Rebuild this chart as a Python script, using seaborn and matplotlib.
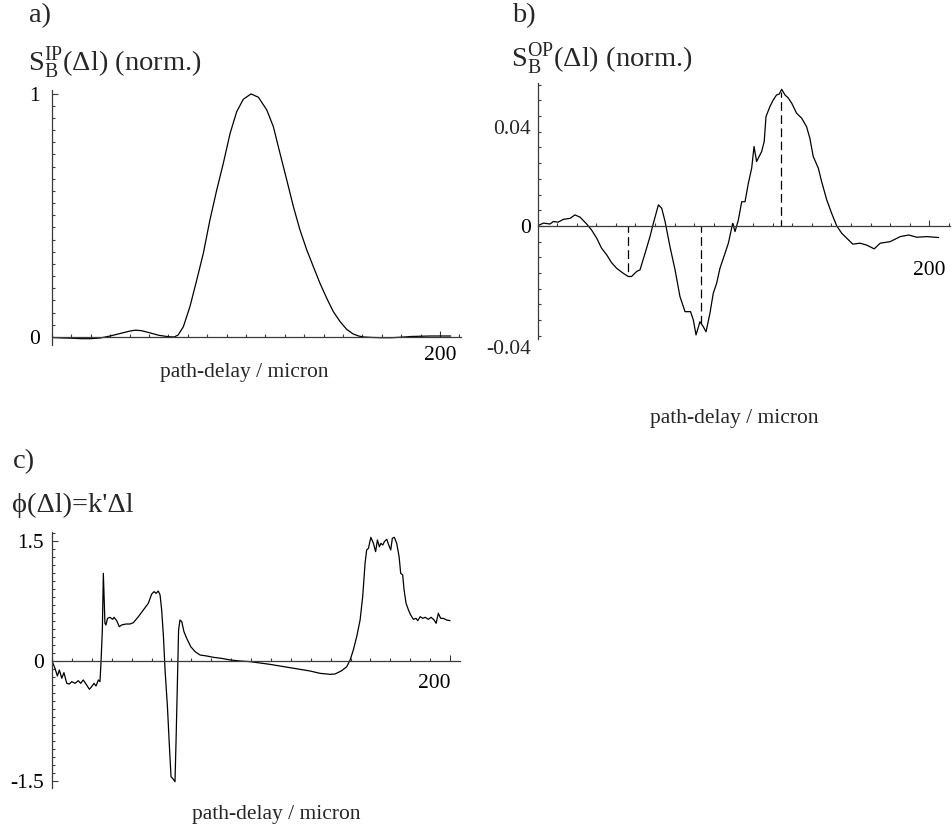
import matplotlib
matplotlib.use("Agg")
import matplotlib.pyplot as plt
import seaborn as sns
from matplotlib.ticker import MultipleLocator, FixedLocator

# ---------------- data ----------------
# panel a: in-phase signal (normalised)
a_x = [0, 5, 10, 15, 20, 25, 30, 35, 40, 43, 46, 50, 55, 60, 63, 65, 67.7, 71.1, 74.6, 78,
       81.4, 84.9, 88.3, 91.8, 95.2, 98.6, 102.6, 106.4, 110.7, 114.1, 117.5, 121, 124.4,
       127.8, 131.3, 134.7, 138.1, 141.6, 145, 148.5, 151.9, 155.3, 158, 160.5, 165, 170,
       175, 180, 185, 190, 195, 200, 205.5]
a_y = [-0.002, -0.004, -0.005, -0.007, -0.007, -0.004, 0.004, 0.014, 0.024, 0.028, 0.026,
       0.018, 0.007, 0.001, 0.0, 0.008, 0.042, 0.125, 0.234, 0.344, 0.481, 0.604, 0.714,
       0.837, 0.926, 0.977, 0.999, 0.985, 0.933, 0.864, 0.755, 0.645, 0.536, 0.440, 0.358,
       0.289, 0.221, 0.159, 0.104, 0.063, 0.031, 0.012, 0.004, 0.0, -0.002, -0.003, -0.003,
       -0.001, 0.002, 0.003, 0.004, 0.004, 0.004]

# panel b: out-of-phase signal (normalised)
b_x = [0, 3.0, 6.4, 8.1, 10.5, 13.2, 16.6, 19.1, 21.7, 25.1, 27.6, 30.2, 32.7, 35.3, 37.8,
       40.4, 43.8, 46.3, 48.0, 50.6, 52.3, 54.9, 57.4, 59.1, 61.7, 63.4, 65.1, 67.6, 70.2,
       72.7, 75.3, 78.1, 79.5, 80.9, 82.9, 84.6, 86.0, 88.0, 89.7, 91.4, 93.1, 95.7, 97.4,
       99.6, 100.8, 102.5, 104.2, 105.9, 107.6, 109.3, 110.5, 111.8, 114.4, 115.7, 116.6,
       118.6, 120.3, 122.0, 123.4, 124.6, 126.3, 128.0, 129.7, 132.2, 134.8, 137.3, 139.0,
       140.7, 143.3, 145.0, 147.6, 150.1, 152.7, 155.2, 157.8, 160.9, 164.6, 168.0, 171.8,
       174.9, 180.0, 185.1, 189.4, 193.6, 198.7, 204.7]
b_y = [0.0, 0.0009, 0.0006, 0.0014, 0.0012, 0.0021, 0.0024, 0.0035, 0.0028, 0.0006, -0.0013,
       -0.0039, -0.0071, -0.0092, -0.0117, -0.0135, -0.0151, -0.0161, -0.0161, -0.0145,
       -0.0140, -0.0087, -0.0034, 0.0008, 0.0067, 0.0056, 0.0014, -0.0066, -0.0140, -0.0225,
       -0.0273, -0.0273, -0.0299, -0.0347, -0.0305, -0.0321, -0.0337, -0.0278, -0.0214,
       -0.0183, -0.0135, -0.0087, -0.0055, 0.0008, -0.0018, 0.0019, 0.0077, 0.0077, 0.0136,
       0.0184, 0.0253, 0.0205, 0.0237, 0.0269, 0.0348, 0.0380, 0.0401, 0.0417, 0.0420,
       0.0435, 0.0417, 0.0407, 0.0391, 0.0359, 0.0343, 0.0316, 0.0279, 0.0221, 0.0184,
       0.0141, 0.0083, 0.0040, 0.0, -0.0023, -0.0039, -0.0058, -0.0055, -0.0061, -0.0073,
       -0.0055, -0.0050, -0.0034, -0.0029, -0.0036, -0.0034, -0.0037]
# dashed markers at the extrema of panel b
b_mark_x = [46.3, 83.4, 124.2]
b_mark_y = [-0.0161, -0.0310, 0.0425]

# panel c: phase
c_x = [0, 1.5, 2.7, 3.7, 4.9, 6.0, 7.4, 8.7, 9.9, 11.6, 13.2, 14.4, 15.7, 17.4, 18.8, 19.9,
       21.1, 22.1, 23.3, 24.1, 24.6, 25.3, 25.8, 26.6, 27.1, 27.9, 29.1, 30.5, 31.2, 32.5,
       33.8, 35.0, 37.2, 39.2, 40.9, 43.4, 45.9, 48.4, 50.1, 51.3, 52.3, 53.4, 54.3, 55.1,
       56.0, 56.8, 58.0, 59.0, 59.8, 61.0, 61.8, 62.3, 63.0, 63.6, 64.3, 65.2, 66.3, 67.7,
       69.7, 71.9, 74.4, 77.7, 81.1, 85.3, 89.5, 94.5, 99.5, 109.5, 119.6, 129.6, 134.7,
       139.7, 142.2, 145.6, 148.1, 149.8, 151.4, 153.1, 154.8, 156.1, 157.3, 158.1, 159.0,
       160.2, 161.5, 162.6, 163.5, 164.5, 165.3, 166.2, 167.0, 168.2, 169.2, 170.2, 171.0,
       172.0, 173.2, 174.4, 175.2, 176.2, 176.9, 177.9, 179.1, 180.2, 181.6, 182.9, 183.8,
       185.0, 186.3, 187.5, 189.1, 190.5, 192.0, 193.0, 194.1, 195.3, 196.6, 198.3, 200.0]
c_y = [0.0, -0.092, -0.188, -0.113, -0.217, -0.146, -0.280, -0.289, -0.259, -0.280, -0.247,
       -0.280, -0.238, -0.301, -0.355, -0.322, -0.280, -0.314, -0.238, -0.259, -0.029, 0.389,
       1.10, 0.473, 0.452, 0.535, 0.548, 0.523, 0.548, 0.506, 0.431, 0.452, 0.464, 0.464,
       0.481, 0.556, 0.640, 0.724, 0.841, 0.870, 0.849, 0.878, 0.828, 0.640, 0.305, -0.113,
       -0.573, -1.075, -1.451, -1.485, -1.514, -1.033, -0.280, 0.389, 0.514, 0.494, 0.368,
       0.284, 0.180, 0.117, 0.075, 0.063, 0.046, 0.033, 0.013, 0.0, -0.008, -0.042, -0.084,
       -0.125, -0.155, -0.167, -0.163, -0.121, -0.071, 0.013, 0.138, 0.305, 0.514, 0.807,
       1.225, 1.393, 1.414, 1.552, 1.476, 1.372, 1.518, 1.434, 1.476, 1.455, 1.497, 1.527,
       1.455, 1.393, 1.539, 1.552, 1.476, 1.309, 1.100, 1.079, 0.891, 0.724, 0.640, 0.577,
       0.523, 0.535, 0.506, 0.556, 0.535, 0.548, 0.523, 0.548, 0.514, 0.473, 0.598, 0.535,
       0.535, 0.514, 0.506]

x_label = "path-delay / micron"
titles = [r"$S_B^{IP}$(Δl) (norm.)", r"$S_B^{OP}$(Δl) (norm.)", "ϕ(Δl)=k'Δl"]
panel_tags = ["a)", "b)", "c)"]

# ---------------- style ----------------
sns.set_theme(style="ticks")
plt.rcParams["font.family"] = ["Liberation Serif", "DejaVu Serif"]
plt.rcParams["mathtext.fontset"] = "custom"
plt.rcParams["mathtext.rm"] = "Liberation Serif"
plt.rcParams["mathtext.it"] = "Liberation Serif"
plt.rcParams["mathtext.default"] = "regular"

AX_COL = "#3a3a3a"
FS_TICK = 15.5
FS_TITLE = 20.5

fig = plt.figure(figsize=(9.52, 8.33), dpi=100)
W, H = 952.0, 833.0


def add_axes(px_left, px_right, px_top, px_bottom):
    return fig.add_axes([px_left / W, 1 - px_bottom / H,
                         (px_right - px_left) / W, (px_bottom - px_top) / H])


def style(ax, xlim, ylim, yminor, ypad, xpad):
    ax.set_xlim(*xlim)
    ax.set_ylim(*ylim)
    for s in ["top", "right"]:
        ax.spines[s].set_visible(False)
    ax.spines["left"].set_position(("data", 0))
    ax.spines["bottom"].set_position(("data", 0))
    for s in ["left", "bottom"]:
        ax.spines[s].set_color(AX_COL)
        ax.spines[s].set_linewidth(0.9)
    ax.xaxis.set_minor_locator(MultipleLocator(10))
    ax.yaxis.set_minor_locator(MultipleLocator(yminor))
    ax.tick_params(which="both", direction="in", color=AX_COL, width=0.8,
                   bottom=True, left=True, labelcolor="black")
    ax.tick_params(which="major", length=4)
    ax.tick_params(which="minor", length=2.4)
    ax.tick_params(axis="y", pad=ypad, labelsize=FS_TICK)
    ax.tick_params(axis="x", pad=xpad, labelsize=FS_TICK)
    ax.set_facecolor("none")
    ax.grid(False)
    ax.set_ylabel("")


# ---- panel a ----
ax_a = add_axes(52, 461, 90, 345)
sns.lineplot(x=a_x, y=a_y, ax=ax_a, color="black", linewidth=0.9, estimator=None, sort=False)
style(ax_a, (0, 210.8), (-0.033, 1.015), 0.05, 9.0, 6.5)
ax_a.yaxis.set_major_locator(FixedLocator([0, 1]))
ax_a.set_yticklabels(["0", "1"])
ax_a.xaxis.set_major_locator(FixedLocator([200]))
ax_a.set_xticklabels(["200"])

# ---- panel b ----
ax_b = add_axes(537.5, 950, 83, 339)
sns.lineplot(x=b_x, y=b_y, ax=ax_b, color="black", linewidth=0.9, estimator=None, sort=False)
ax_b.vlines(b_mark_x, 0, b_mark_y, colors="black", linestyles=(2, (7, 3.5)), linewidth=0.9)
style(ax_b, (0, 210.5), (-0.0360, 0.0455), 0.005, 4.5, 25.0)
ax_b.yaxis.set_major_locator(FixedLocator([0]))
ax_b.set_yticklabels(["0"])
ax_b.xaxis.set_major_locator(FixedLocator([200]))
ax_b.set_xticklabels(["200"])
for txt, yv in [("0.04", 0.0315), ("-0.04", -0.0385)]:
    ax_b.annotate(txt, xy=(0, yv), xycoords=("axes fraction", "data"),
                  xytext=(-4.5, 0), textcoords="offset points", ha="right",
                  va="center_baseline", fontsize=FS_TICK, annotation_clip=False)

# ---- panel c ----
ax_c = add_axes(52, 460, 531.7, 788.3)
sns.lineplot(x=c_x, y=c_y, ax=ax_c, color="black", linewidth=0.9, estimator=None, sort=False)
style(ax_c, (0, 205), (-1.597, 1.622), 0.1, 6.0, 9.5)
ax_c.yaxis.set_major_locator(FixedLocator([-1.5, 0, 1.5]))
ax_c.set_yticklabels(["-1.5", "0", "1.5"])
ax_c.xaxis.set_major_locator(FixedLocator([200]))
ax_c.set_xticklabels(["200"])
for lab in ax_c.get_xticklabels():
    lab.set_ha("right")

# x labels
for ax, (lx, ly) in [(ax_a, (0.469, -0.106)), (ax_b, (0.476, -0.309)), (ax_c, (0.549, -0.104))]:
    ax.set_xlabel(x_label, fontsize=FS_TICK)
    ax.xaxis.label.set_va("center")
    ax.xaxis.set_label_coords(lx, ly)

# titles and panel tags (positions in pixels of the figure)
for tag, (tx, ty) in zip(panel_tags, [(29, 22), (512, 22), (13, 468)]):
    fig.text(tx / W, 1 - ty / H, tag, fontsize=FS_TITLE, ha="left", va="baseline")
for ttl, (tx, ty) in zip(titles, [(28, 71), (511, 67), (12, 512)]):
    fig.text(tx / W, 1 - ty / H, ttl, fontsize=FS_TITLE, ha="left", va="baseline")

fig.savefig("out.png", dpi=100, facecolor="white")
